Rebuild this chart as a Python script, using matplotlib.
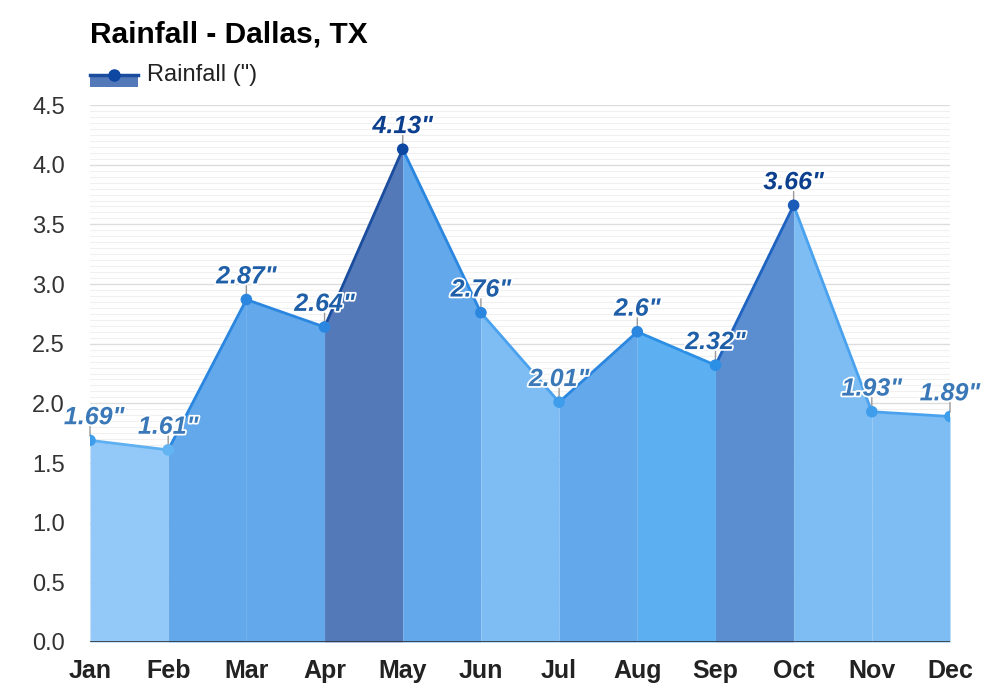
import numpy as np
import matplotlib.pyplot as plt
import matplotlib.patheffects as pe
from matplotlib.lines import Line2D
from matplotlib.patches import Rectangle

plt.rcParams['font.family'] = ['Liberation Sans', 'DejaVu Sans']

months = ['Jan', 'Feb', 'Mar', 'Apr', 'May', 'Jun', 'Jul', 'Aug', 'Sep', 'Oct', 'Nov', 'Dec']
rain = [1.69, 1.61, 2.87, 2.64, 4.13, 2.76, 2.01, 2.6, 2.32, 3.66, 1.93, 1.89]
labels = ['1.69"', '1.61"', '2.87"', '2.64"', '4.13"', '2.76"', '2.01"', '2.6"', '2.32"', '3.66"', '1.93"', '1.89"']

# colour of each segment (fill, edge line) and of each point
seg_fill = ['#93c9f8', '#62a8ea', '#62a8ea', '#5479b9', '#62a8ea', '#7dbdf4',
            '#62a8ea', '#5cb0f1', '#5a8ed0', '#7dbdf4', '#7dbdf4']
seg_line = ['#5fb0f0', '#2b86e0', '#2b86e0', '#1a4d9e', '#2b86e0', '#4aa2ee',
            '#2b86e0', '#2b8fe6', '#1f63c0', '#4aa2ee', '#4aa2ee']
pt_col = ['#3f9eec', '#62b4f2', '#2b86e0', '#2b86e0', '#0d47a1', '#2b86e0',
          '#3f9eec', '#2b86e0', '#2b8fe6', '#1a5cb8', '#3f9eec', '#3f9eec']
lab_col = ['#3a78b8', '#3a78b8', '#1f5fa8', '#1f5fa8', '#0d3f8f', '#1f5fa8',
           '#3a78b8', '#1f5fa8', '#1f5fa8', '#0d3f8f', '#3a78b8', '#3a78b8']

x = np.arange(len(months))

fig = plt.figure(figsize=(10, 7), dpi=100)
ax = fig.add_axes([0.09, 0.0829, 0.86, 0.767])

for i in range(len(x) - 1):
    xs = [x[i], x[i + 1]]
    ys = [rain[i], rain[i + 1]]
    ax.fill_between(xs, ys, 0, color=seg_fill[i], linewidth=0, zorder=2)
    ax.plot(xs, ys, color=seg_line[i], linewidth=2, zorder=4, solid_capstyle='round')

ax.scatter(x, rain, s=70, c=pt_col, zorder=5, linewidths=0)

for i in range(len(x)):
    dx = 3 if i == 0 else 0
    ax.annotate('', xy=(x[i], rain[i]), xytext=(0, 10), textcoords='offset points',
                arrowprops=dict(arrowstyle='-', color='#999999', lw=1, shrinkA=0, shrinkB=3),
                zorder=3)
    ax.annotate(labels[i], xy=(x[i], rain[i]), xytext=(dx, 8), textcoords='offset points',
                ha='center', va='bottom', fontsize=18, fontweight='bold', fontstyle='italic',
                color=lab_col[i], zorder=6,
                path_effects=[pe.withStroke(linewidth=2.5, foreground='white')])

ax.set_xlim(0, 11)
ax.set_ylim(0, 4.5)
ax.set_yticks(np.arange(0, 4.51, 0.5))
ax.set_yticks(np.arange(0, 4.51, 0.05), minor=True)
ax.set_yticklabels(['%.1f' % v for v in np.arange(0, 4.51, 0.5)])
ax.set_xticks(x)
ax.set_xticklabels(months, fontweight='bold')
ax.tick_params(axis='y', which='both', length=0, labelsize=17, labelcolor='#333333', pad=18)
ax.tick_params(axis='x', length=0, labelsize=18, labelcolor='#222222', pad=12)
ax.grid(axis='y', which='major', color='#dddddd', linewidth=1, zorder=0)
ax.grid(axis='y', which='minor', color='#f0f0f0', linewidth=0.8, zorder=0)
ax.set_axisbelow(True)
for s in ax.spines.values():
    s.set_visible(False)
ax.axhline(0, color='#333333', linewidth=1.2, zorder=6)

fig.text(0.09, 0.951, 'Rainfall - Dallas, TX', fontsize=21.5, fontweight='bold',
         ha='left', va='center', color='#000000')

# legend drawn by hand: filled box with line and dot on top
fig.add_artist(Rectangle((0.09, 1 - 87 / 700), 0.048, 12 / 700, transform=fig.transFigure,
                         facecolor='#5479b9', edgecolor='none'))
fig.add_artist(Line2D([0.09, 0.138], [1 - 75 / 700] * 2, transform=fig.transFigure,
                      color='#1a4d9e', linewidth=2.5))
fig.add_artist(Line2D([0.114], [1 - 75 / 700], transform=fig.transFigure, marker='o',
                      markersize=8, color='#0d47a1', linewidth=0))
fig.text(0.147, 1 - 75 / 700, 'Rainfall (")', fontsize=17, color='#222222',
         ha='left', va='center')

fig.savefig('out.png', dpi=100)
